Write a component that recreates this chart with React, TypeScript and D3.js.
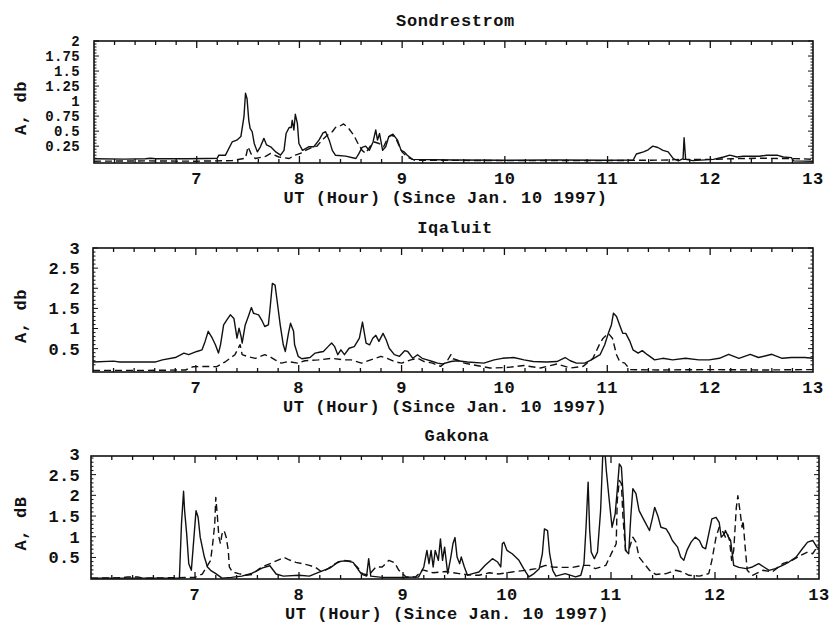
import React from "react";
import * as d3 from "d3";

// hour, amplitude (dB) pairs
const sondSolid: [number, number][] = [
  [6.0, 0.04], [6.3, 0.035], [6.5, 0.04], [6.55, 0.05], [6.6, 0.04], [6.9, 0.04], [7.1, 0.045], [7.2, 0.05],
  [7.215, 0.1], [7.28, 0.1], [7.345, 0.32], [7.39, 0.35], [7.43, 0.41], [7.46, 0.74], [7.475, 1.13], [7.49, 1.04],
  [7.507, 0.68], [7.52, 0.545], [7.54, 0.49], [7.56, 0.295], [7.59, 0.155], [7.62, 0.24], [7.654, 0.38], [7.68, 0.27],
  [7.72, 0.24], [7.77, 0.155], [7.816, 0.1], [7.85, 0.18], [7.87, 0.46], [7.9, 0.56], [7.92, 0.56], [7.93, 0.68],
  [7.946, 0.52], [7.96, 0.78], [7.98, 0.63], [7.995, 0.295], [8.03, 0.18], [8.09, 0.24], [8.14, 0.24], [8.19, 0.35],
  [8.23, 0.47], [8.255, 0.49], [8.29, 0.35], [8.32, 0.18], [8.35, 0.1], [8.45, 0.084], [8.55, 0.045], [8.58, 0.13],
  [8.61, 0.23], [8.645, 0.25], [8.68, 0.18], [8.717, 0.32], [8.743, 0.52], [8.76, 0.35], [8.78, 0.46], [8.81, 0.18],
  [8.84, 0.24], [8.87, 0.41], [8.91, 0.45], [8.955, 0.35], [8.99, 0.18], [9.02, 0.155], [9.05, 0.1], [9.1, 0.03],
  [9.5, 0.02], [10.0, 0.015], [10.5, 0.02], [11.0, 0.015], [11.25, 0.02], [11.28, 0.12], [11.35, 0.155], [11.395, 0.19],
  [11.44, 0.25], [11.49, 0.228], [11.54, 0.18], [11.59, 0.155], [11.64, 0.044], [11.69, 0.005], [11.735, 0.044],
  [11.745, 0.39], [11.76, 0.03], [11.83, 0.01], [12.03, 0.03], [12.13, 0.07], [12.19, 0.1], [12.26, 0.07], [12.32, 0.083],
  [12.48, 0.083], [12.55, 0.1], [12.65, 0.1], [12.71, 0.07], [12.79, 0.06], [12.81, 0.005], [13.0, 0.0],
];
const sondDashed: [number, number][] = [
  [6.0, 0.0], [6.5, 0.005], [7.0, 0.0], [7.345, 0.01], [7.475, 0.05], [7.5, 0.24], [7.53, 0.12], [7.57, 0.045],
  [7.67, 0.08], [7.72, 0.13], [7.8, 0.07], [7.9, 0.045], [7.96, 0.1], [8.01, 0.13], [8.06, 0.18], [8.125, 0.23],
  [8.17, 0.25], [8.22, 0.35], [8.27, 0.43], [8.32, 0.49], [8.35, 0.56], [8.39, 0.58], [8.43, 0.62], [8.48, 0.545],
  [8.53, 0.43], [8.57, 0.295], [8.61, 0.18], [8.645, 0.13], [8.685, 0.24], [8.73, 0.32], [8.775, 0.295], [8.82, 0.24],
  [8.86, 0.39], [8.89, 0.43], [8.93, 0.41], [8.965, 0.28], [9.0, 0.155], [9.05, 0.07], [9.12, 0.017], [10.0, 0.01],
  [11.0, 0.01], [11.6, 0.02], [11.7, 0.03], [12.0, 0.03], [12.2, 0.04], [12.5, 0.05], [12.9, 0.04], [13.0, 0.03],
];

const iqaSolid: [number, number][] = [
  [6.0, 0.17], [6.2, 0.19], [6.26, 0.17], [6.61, 0.17], [6.675, 0.22], [6.8, 0.28], [6.884, 0.39], [6.93, 0.35],
  [7.01, 0.43], [7.06, 0.47], [7.09, 0.68], [7.12, 0.93], [7.16, 0.76], [7.19, 0.595], [7.22, 0.39], [7.24, 0.6],
  [7.27, 1.09], [7.3, 1.21], [7.335, 1.34], [7.37, 1.25], [7.4, 0.76], [7.42, 1.01], [7.44, 0.8], [7.45, 0.64],
  [7.48, 1.09], [7.51, 1.3], [7.54, 1.52], [7.56, 1.38], [7.61, 1.34], [7.64, 1.21], [7.67, 1.05], [7.705, 1.09],
  [7.72, 1.46], [7.744, 2.12], [7.77, 2.08], [7.795, 1.59], [7.82, 1.09], [7.85, 0.595], [7.87, 0.43], [7.9, 0.88],
  [7.92, 1.13], [7.95, 0.93], [7.96, 0.595], [7.995, 0.31], [8.03, 0.25], [8.11, 0.28], [8.16, 0.39], [8.2, 0.41],
  [8.24, 0.43], [8.285, 0.55], [8.32, 0.64], [8.35, 0.55], [8.38, 0.35], [8.41, 0.47], [8.445, 0.35], [8.49, 0.51],
  [8.54, 0.55], [8.59, 0.76], [8.62, 1.16], [8.655, 0.64], [8.69, 0.595], [8.72, 0.76], [8.75, 0.83], [8.78, 0.68],
  [8.82, 0.88], [8.85, 0.72], [8.88, 0.51], [8.93, 0.35], [8.98, 0.31], [9.03, 0.45], [9.06, 0.43], [9.11, 0.26],
  [9.155, 0.35], [9.2, 0.26], [9.25, 0.22], [9.3, 0.18], [9.35, 0.14], [9.4, 0.12], [9.48, 0.18], [9.54, 0.2],
  [9.64, 0.17], [9.8, 0.14], [9.9, 0.22], [9.98, 0.26], [10.09, 0.28], [10.19, 0.22], [10.28, 0.18], [10.41, 0.17],
  [10.51, 0.18], [10.59, 0.28], [10.64, 0.2], [10.7, 0.14], [10.78, 0.14], [10.845, 0.22], [10.93, 0.35], [10.975, 0.595],
  [11.01, 0.88], [11.04, 1.09], [11.06, 1.38], [11.09, 1.3], [11.12, 1.09], [11.15, 0.88], [11.18, 0.88], [11.22, 0.68],
  [11.25, 0.47], [11.3, 0.39], [11.34, 0.45], [11.39, 0.35], [11.46, 0.22], [11.54, 0.26], [11.635, 0.22], [11.76, 0.26],
  [11.89, 0.22], [11.99, 0.22], [12.09, 0.26], [12.18, 0.36], [12.28, 0.26], [12.39, 0.36], [12.47, 0.28], [12.6, 0.36],
  [12.7, 0.26], [12.79, 0.28], [12.92, 0.28], [13.0, 0.26],
];
const iqaDashed: [number, number][] = [
  [6.0, -0.04], [6.5, -0.04], [6.9, -0.03], [6.97, 0.05], [7.1, 0.06], [7.2, 0.05], [7.29, 0.18], [7.38, 0.35],
  [7.43, 0.6], [7.45, 0.35], [7.51, 0.3], [7.58, 0.26], [7.67, 0.35], [7.72, 0.3], [7.77, 0.22], [7.83, 0.14],
  [7.9, 0.18], [7.99, 0.14], [8.06, 0.2], [8.19, 0.22], [8.32, 0.26], [8.445, 0.22], [8.51, 0.22], [8.61, 0.14],
  [8.7, 0.22], [8.8, 0.31], [8.86, 0.26], [8.93, 0.18], [9.0, 0.14], [9.09, 0.22], [9.155, 0.26], [9.22, 0.18],
  [9.3, 0.14], [9.38, 0.06], [9.44, 0.18], [9.48, 0.35], [9.5, 0.25], [9.54, 0.22], [9.61, 0.14], [9.73, 0.08],
  [9.86, 0.02], [10.02, 0.03], [10.19, 0.08], [10.35, 0.02], [10.51, 0.12], [10.64, 0.02], [10.765, 0.06], [10.86, 0.26],
  [10.93, 0.64], [10.96, 0.76], [11.01, 0.88], [11.05, 0.76], [11.09, 0.35], [11.12, 0.18], [11.17, 0.14], [11.22, -0.02],
  [11.5, -0.03], [12.0, -0.02], [12.5, -0.03], [13.0, -0.02],
];

const gakSolid: [number, number][] = [
  [6.0, 0.0], [6.85, 0.0], [6.87, 1.31], [6.89, 2.1], [6.9, 1.63], [6.92, 1.07], [6.94, 0.35], [6.965, 0.19],
  [6.98, 0.67], [7.01, 1.63], [7.03, 1.47], [7.05, 0.99], [7.09, 0.51], [7.12, 0.27], [7.15, 0.19], [7.2, 0.11],
  [7.26, 0.0], [7.35, 0.02], [7.45, 0.05], [7.55, 0.12], [7.65, 0.25], [7.72, 0.3], [7.78, 0.1], [7.85, 0.05],
  [8.0, 0.07], [8.1, 0.05], [8.2, 0.15], [8.3, 0.25], [8.38, 0.4], [8.45, 0.42], [8.52, 0.38], [8.6, 0.1],
  [8.65, 0.05], [8.67, 0.47], [8.69, 0.05], [8.8, 0.02], [9.0, 0.02], [9.15, 0.03], [9.2, 0.27], [9.23, 0.67],
  [9.25, 0.35], [9.27, 0.67], [9.29, 0.27], [9.31, 0.67], [9.34, 0.43], [9.36, 0.95], [9.38, 0.43], [9.4, 0.75],
  [9.43, 0.11], [9.46, 0.51], [9.48, 0.83], [9.5, 0.98], [9.52, 0.51], [9.545, 0.35], [9.56, 0.51], [9.59, 0.27],
  [9.62, 0.07], [9.67, 0.11], [9.73, 0.15], [9.79, 0.31], [9.86, 0.47], [9.91, 0.39], [9.94, 0.27], [9.955, 0.83],
  [9.97, 0.87], [10.0, 0.67], [10.05, 0.59], [10.115, 0.43], [10.16, 0.23], [10.21, 0.03], [10.26, 0.11], [10.31, 0.23],
  [10.34, 0.59], [10.36, 1.19], [10.39, 1.15], [10.41, 0.59], [10.44, 0.19], [10.47, 0.05], [10.56, 0.11], [10.66, 0.03],
  [10.71, 0.07], [10.74, 0.35], [10.76, 1.23], [10.78, 2.32], [10.795, 1.15], [10.81, 0.63], [10.84, 0.47], [10.87, 0.63],
  [10.9, 1.63], [10.92, 2.92], [10.94, 3.1], [10.955, 2.6], [10.98, 1.96], [11.01, 1.23], [11.04, 1.55], [11.06, 2.12],
  [11.08, 2.76], [11.1, 2.68], [11.12, 1.87], [11.14, 0.67], [11.17, 0.59], [11.19, 1.47], [11.21, 2.16], [11.24, 2.04],
  [11.27, 1.63], [11.32, 1.39], [11.37, 1.15], [11.4, 1.47], [11.42, 1.71], [11.45, 1.51], [11.48, 1.23], [11.53, 1.19],
  [11.56, 1.07], [11.59, 0.91], [11.64, 0.75], [11.67, 0.51], [11.7, 0.43], [11.73, 0.67], [11.77, 0.87], [11.81, 0.99],
  [11.85, 0.91], [11.88, 0.75], [11.91, 0.71], [11.94, 1.07], [11.97, 1.43], [12.01, 1.47], [12.04, 1.35], [12.06, 0.99],
  [12.09, 1.07], [12.1, 1.15], [12.13, 0.99], [12.15, 0.91], [12.17, 0.51], [12.18, 0.31], [12.23, 0.26], [12.3, 0.23],
  [12.36, 0.27], [12.42, 0.35], [12.47, 0.27], [12.52, 0.19], [12.58, 0.23], [12.65, 0.31], [12.71, 0.39], [12.78, 0.51],
  [12.84, 0.71], [12.89, 0.87], [12.94, 0.91], [12.98, 0.75], [13.0, 0.72],
];
const gakDashed: [number, number][] = [
  [6.0, 0.0], [6.3, 0.01], [6.35, 0.03], [6.45, 0.03], [6.5, 0.0], [7.0, 0.02], [7.07, 0.1], [7.15, 0.43],
  [7.17, 0.83], [7.19, 1.31], [7.2, 1.95], [7.215, 1.5], [7.23, 0.99], [7.245, 0.83], [7.26, 1.07], [7.28, 1.15],
  [7.3, 0.99], [7.32, 0.67], [7.33, 0.27], [7.36, 0.15], [7.42, 0.11], [7.49, 0.07], [7.55, 0.09], [7.62, 0.23],
  [7.68, 0.31], [7.75, 0.38], [7.81, 0.45], [7.855, 0.5], [7.9, 0.45], [7.97, 0.38], [8.03, 0.35], [8.1, 0.31],
  [8.16, 0.26], [8.22, 0.15], [8.28, 0.23], [8.35, 0.35], [8.42, 0.43], [8.5, 0.41], [8.56, 0.27], [8.61, 0.11],
  [8.67, 0.07], [8.74, 0.27], [8.8, 0.27], [8.865, 0.43], [8.92, 0.37], [8.96, 0.19], [9.03, 0.03], [9.12, 0.03],
  [9.19, 0.2], [9.29, 0.13], [9.41, 0.16], [9.54, 0.11], [9.67, 0.07], [9.73, 0.07], [9.83, 0.13], [9.92, 0.1],
  [10.05, 0.15], [10.18, 0.19], [10.28, 0.23], [10.37, 0.31], [10.44, 0.27], [10.53, 0.26], [10.63, 0.26], [10.725, 0.31],
  [10.79, 0.31], [10.85, 0.23], [10.95, 0.31], [11.01, 0.63], [11.05, 0.83], [11.06, 1.87], [11.08, 2.36], [11.1, 2.28],
  [11.115, 1.47], [11.14, 0.67], [11.17, 0.67], [11.21, 0.99], [11.24, 0.87], [11.27, 0.51], [11.32, 0.35], [11.37, 0.19],
  [11.43, 0.09], [11.53, 0.11], [11.62, 0.19], [11.69, 0.15], [11.75, 0.07], [11.85, 0.05], [11.94, 0.11], [11.97, 0.43],
  [12.01, 0.99], [12.04, 1.23], [12.07, 1.15], [12.1, 0.99], [12.12, 1.07], [12.14, 0.91], [12.16, 0.43], [12.18, 0.67],
  [12.205, 1.71], [12.22, 1.99], [12.24, 1.63], [12.26, 1.23], [12.27, 1.39], [12.29, 0.75], [12.31, 0.19], [12.36, 0.07],
  [12.46, 0.19], [12.55, 0.15], [12.65, 0.35], [12.74, 0.43], [12.81, 0.53], [12.89, 0.63], [12.94, 0.59], [12.98, 0.75],
  [13.0, 0.7],
];

const hourTicks = [7, 8, 9, 10, 11, 12, 13];
const sondYTicks = [0.25, 0.5, 0.75, 1, 1.25, 1.5, 1.75, 2];
const iqaYTicks = [0.5, 1, 1.5, 2, 2.5, 3];
const gakYTicks = [0.5, 1, 1.5, 2, 2.5, 3];

const xLabel = "UT (Hour) (Since Jan. 10 1997)";
const font = "'Liberation Mono', 'DejaVu Sans Mono', monospace";

type PanelProps = {
  id: string;
  title: string;
  yLabel: string;
  solid: [number, number][];
  dashed: [number, number][];
  yTicks: number[];
  yDomain: [number, number];
  minorStep: number;
  yLabelSize: number;
  left: number;
  right: number;
  top: number;
  bottom: number;
};

function Panel(p: PanelProps) {
  const x = d3.scaleLinear().domain([6, 13]).range([p.left, p.right]);
  const y = d3.scaleLinear().domain(p.yDomain).range([p.bottom, p.top]);
  const line = d3
    .line<[number, number]>()
    .x((d) => x(d[0]))
    .y((d) => y(d[1]));

  const xMinor = d3.range(6.2, 12.99, 0.2);
  const yMinor = d3.range(p.minorStep, p.yDomain[1] + 1e-6, p.minorStep);
  const midY = (p.top + p.bottom) / 2;
  const txt = { fontFamily: font, fontWeight: 700, fontSize: 17, letterSpacing: 0.6, fill: "#111" };

  return (
    <g>
      <defs>
        <clipPath id={p.id}>
          <rect x={p.left} y={p.top} width={p.right - p.left} height={p.bottom - p.top} />
        </clipPath>
      </defs>
      <text x={(p.left + p.right) / 2 + 2} y={p.top - 21} dy="0.35em" textAnchor="middle" style={txt}>
        {p.title}
      </text>

      {/* ticks along top and bottom, pointing inward */}
      {xMinor.map((h, i) => {
        const major = Math.abs(h - Math.round(h)) < 1e-6;
        const len = major ? 7 : 4;
        return (
          <g key={"xt" + i} stroke="#111" strokeWidth={1.3}>
            <line x1={x(h)} x2={x(h)} y1={p.top} y2={p.top + len} />
            <line x1={x(h)} x2={x(h)} y1={p.bottom} y2={p.bottom - len} />
          </g>
        );
      })}
      {/* ticks along the left and right edges */}
      {yMinor.map((v, i) => {
        const major = p.yTicks.some((t) => Math.abs(t - v) < 1e-6);
        const len = major ? 5 : 2.5;
        return (
          <g key={"yt" + i} stroke="#111" strokeWidth={1}>
            <line x1={p.left} x2={p.left + len} y1={y(v)} y2={y(v)} />
            <line x1={p.right} x2={p.right - len} y1={y(v)} y2={y(v)} />
          </g>
        );
      })}

      <g clipPath={`url(#${p.id})`} fill="none" stroke="#111" strokeWidth={1.4} strokeLinejoin="round">
        <path d={line(p.dashed) ?? ""} strokeDasharray="7,4" />
        <path d={line(p.solid) ?? ""} />
      </g>

      <rect
        x={p.left}
        y={p.top}
        width={p.right - p.left}
        height={p.bottom - p.top}
        fill="none"
        stroke="#111"
        strokeWidth={1.6}
      />

      {hourTicks.map((h) => (
        <text key={"xl" + h} x={x(h)} y={p.bottom + 15} dy="0.35em" textAnchor="middle" style={txt}>
          {h}
        </text>
      ))}
      {p.yTicks.map((v) => (
        <text
          key={"yl" + v}
          x={80}
          y={y(v)}
          dy="0.35em"
          textAnchor="end"
          style={{ ...txt, fontSize: p.yLabelSize, letterSpacing: 0.3 }}
        >
          {String(v)}
        </text>
      ))}
      <text
        transform={`translate(20,${midY + 6}) rotate(-90)`}
        dy="0.35em"
        textAnchor="middle"
        style={txt}
      >
        {p.yLabel}
      </text>
      <text x={(p.left + p.right) / 2 - 8} y={p.bottom + 34} dy="0.35em" textAnchor="middle" style={txt}>
        {xLabel}
      </text>
    </g>
  );
}

export default function App() {
  return (
    <svg
      width={831}
      height={624}
      style={{ position: "absolute", left: 0, top: 0, background: "#fff" }}
    >
      <rect width={831} height={624} fill="#fff" />
      <Panel
        id="clipSond"
        title="Sondrestrom"
        yLabel="A, db"
        solid={sondSolid}
        dashed={sondDashed}
        yTicks={sondYTicks}
        yDomain={[-0.03, 2]}
        minorStep={0.05}
        yLabelSize={14}
        left={94}
        right={813}
        top={41}
        bottom={163}
      />
      <Panel
        id="clipIqa"
        title="Iqaluit"
        yLabel="A, db"
        solid={iqaSolid}
        dashed={iqaDashed}
        yTicks={iqaYTicks}
        yDomain={[-0.08, 3]}
        minorStep={0.1}
        yLabelSize={17}
        left={93}
        right={813}
        top={248}
        bottom={372}
      />
      <Panel
        id="clipGak"
        title="Gakona"
        yLabel="A, dB"
        solid={gakSolid}
        dashed={gakDashed}
        yTicks={gakYTicks}
        yDomain={[-0.02, 2.95]}
        minorStep={0.1}
        yLabelSize={17}
        left={91}
        right={819}
        top={456}
        bottom={579}
      />
    </svg>
  );
}
